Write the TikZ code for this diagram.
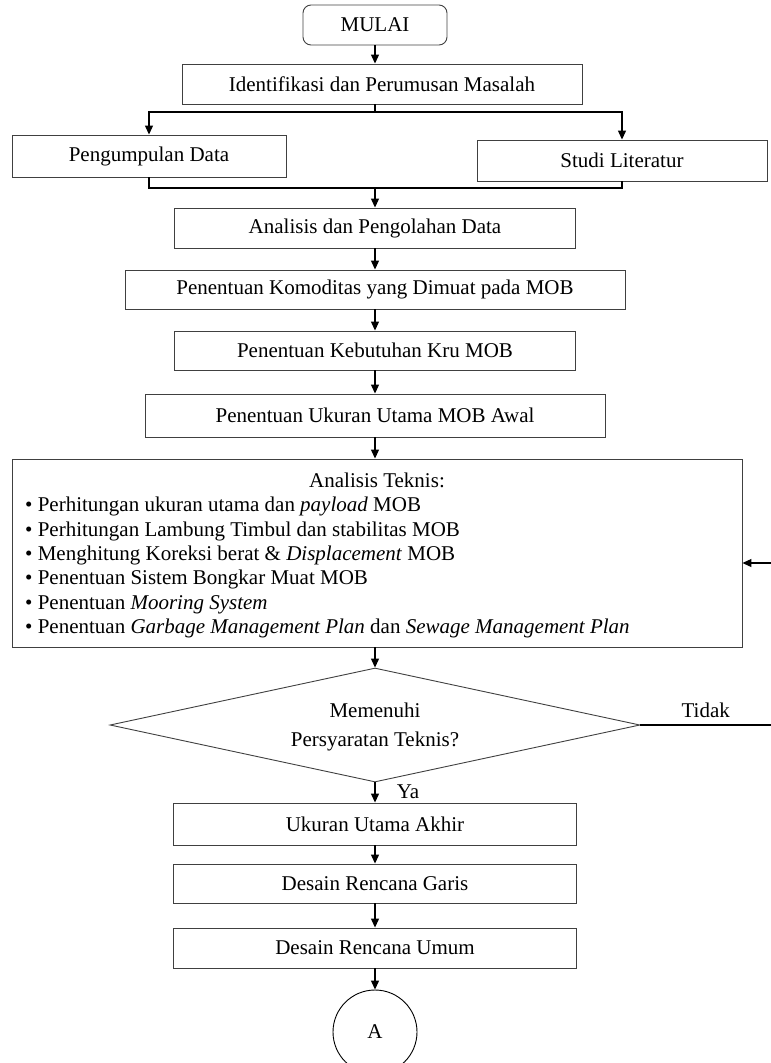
\documentclass[tikz,border=0pt]{standalone}
\usepackage{fontspec}
\setmainfont{Liberation Serif}
\usepackage{tikz}
\usetikzlibrary{arrows.meta, shapes.geometric, positioning}

\tikzset{
  kotak/.style={draw=black!75, line width=0.9pt, align=center, inner sep=0pt},
  panah/.style={-{Triangle[length=9pt, width=8pt]}, line width=1.2pt},
  garis/.style={line width=1.2pt},
}

\begin{document}
\begin{tikzpicture}[x=1pt, y=-1pt, font=\fontsize{21}{24.4}\selectfont]
    \clip (0,0) rectangle (771,1063);

    % Mulai dan identifikasi
    \node[kotak, rounded corners=8pt, minimum width=144pt, minimum height=40pt]
          (mulai) at (375,25) {MULAI};
    \node[kotak, minimum width=400pt, minimum height=40pt]
          (iden) at (382,84) {Identifikasi dan Perumusan Masalah};

    % Dua cabang
    \node[kotak, minimum width=274pt, minimum height=42pt]
          (kumpul) at (149,156) {Pengumpulan Data};
    \node[kotak, minimum width=290pt, minimum height=41pt]
          (studi) at (622,160.5) {Studi Literatur};

    % Tahap utama
    \node[kotak, minimum width=401pt, minimum height=40pt]
          (olah) at (375,228) {Analisis dan Pengolahan Data};
    \node[kotak, minimum width=500pt, minimum height=39pt]
          (komoditas) at (375,289.5) {Penentuan Komoditas yang Dimuat pada MOB};
    \node[kotak, minimum width=401pt, minimum height=39pt]
          (kru) at (375,350.5) {Penentuan Kebutuhan Kru MOB};
    \node[kotak, minimum width=460pt, minimum height=43pt]
          (awal) at (375,415.5) {Penentuan Ukuran Utama MOB Awal};

    % Analisis teknis
    \node[kotak, minimum width=730pt, minimum height=188pt]
          (teknis) at (377,553) {};
    \node (judul) at (377,480) {Analisis Teknis:};
    \node[align=left, anchor=north west, inner sep=0pt] (daftar) at (25,497)
          {\textbullet\ Perhitungan ukuran utama dan \textit{payload} MOB\\
           \textbullet\ Perhitungan Lambung Timbul dan stabilitas MOB\\
           \textbullet\ Menghitung Koreksi berat \& \textit{Displacement} MOB\\
           \textbullet\ Penentuan Sistem Bongkar Muat MOB\\
           \textbullet\ Penentuan \textit{Mooring System}\\
           \textbullet\ Penentuan \textit{Garbage Management Plan} dan \textit{Sewage Management Plan}};

    % Keputusan
    \node[kotak, diamond, aspect=4.7, minimum width=530pt, minimum height=114pt,
          text depth=0pt]
          (cek) at (375,725) {Memenuhi\\[5pt]Persyaratan Teknis?};

    % Tahap akhir
    \node[kotak, minimum width=403pt, minimum height=42pt]
          (akhir) at (375,824) {Ukuran Utama Akhir};
    \node[kotak, minimum width=403pt, minimum height=39pt]
          (garisrencana) at (375,883.5) {Desain Rencana Garis};
    \node[kotak, minimum width=403pt, minimum height=40pt]
          (umum) at (375,948) {Desain Rencana Umum};
    \node[draw, circle, line width=0.9pt, minimum size=84pt, inner sep=0pt]
          (konektor) at (375,1032) {A};

    % Titik bantu
    \coordinate (cabang) at (375,112);
    \coordinate (gabung) at (375,188);
    \coordinate (keluar) at (771,725);
    \coordinate (balik) at (771,563);

    % Panah
    \draw[panah] (mulai) -- (mulai |- iden.north);
    \draw[garis] (iden.south -| mulai) -- (cabang);
    \draw[panah] (cabang) -| (kumpul.north);
    \draw[panah] (cabang) -| (studi.north);
    \draw[garis] (kumpul.south) |- (gabung);
    \draw[garis] (studi.south) |- (gabung);
    \draw[panah] (gabung) -- (olah);
    \draw[panah] (olah) -- (komoditas);
    \draw[panah] (komoditas) -- (kru);
    \draw[panah] (kru) -- (awal);
    \draw[panah] (awal) -- (awal |- teknis.north);
    \draw[panah] (teknis.south -| cek) -- (cek);
    \draw[panah] (cek) -- (akhir) node[pos=0.45, right=18pt] (ya) {Ya};
    \draw[panah] (akhir) -- (garisrencana);
    \draw[panah] (garisrencana) -- (umum);
    \draw[panah] (umum) -- (konektor);

    % Umpan balik
    \draw[garis] (cek.east) -- (keluar) node[midway, above=3pt] (tidak) {Tidak};
    \draw[panah] (balik) -- (balik -| teknis.east);
\end{tikzpicture}
\end{document}
